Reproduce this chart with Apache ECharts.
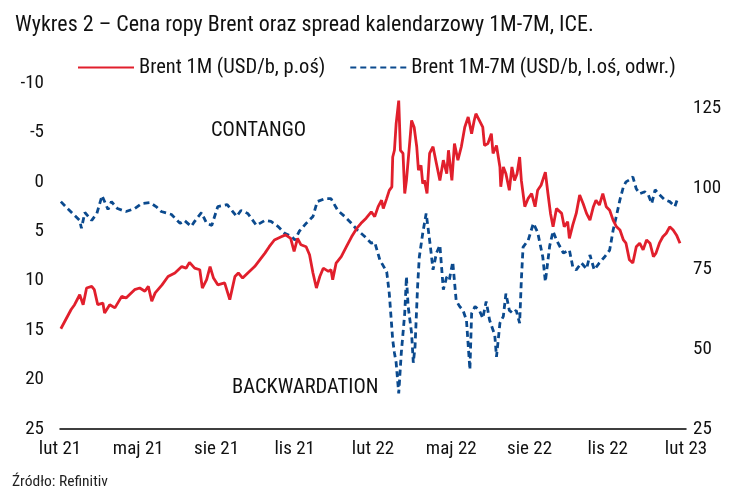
<!DOCTYPE html>
<html>
<head>
<meta charset="utf-8">
<script src="https://cdn.jsdelivr.net/npm/echarts@6/dist/echarts.min.js"></script>
<style>
html,body{margin:0;padding:0;background:#fff;}
#c{width:738px;height:498px;}
</style>
</head>
<body>
<div id="c"></div>
<script>
// ---- data ----
const tickDates = ['2021-02-01','2021-05-01','2021-08-01','2021-11-01','2022-02-01','2022-05-01','2022-08-01','2022-11-01','2023-02-01'];
const tickLabels = ['lut 21','maj 21','sie 21','lis 21','lut 22','maj 22','sie 22','lis 22','lut 23'];
const leftTicks = [-10,-5,0,5,10,15,20,25];
const rightTicks = [25,50,75,100,125];

const brentDates = ['2021-02-02','2021-02-14','2021-02-18','2021-02-24','2021-02-28','2021-03-04','2021-03-10','2021-03-13','2021-03-17','2021-03-23','2021-03-25','2021-03-31','2021-04-06','2021-04-14','2021-04-19','2021-04-29','2021-05-05','2021-05-11','2021-05-15','2021-05-19','2021-05-23','2021-05-31','2021-06-07','2021-06-15','2021-06-23','2021-06-28','2021-07-02','2021-07-08','2021-07-14','2021-07-17','2021-07-22','2021-07-26','2021-07-30','2021-08-04','2021-08-06','2021-08-12','2021-08-18','2021-08-24','2021-08-28','2021-09-02','2021-09-08','2021-09-16','2021-09-22','2021-09-28','2021-10-03','2021-10-09','2021-10-17','2021-10-22','2021-10-28','2021-11-01','2021-11-05','2021-11-09','2021-11-15','2021-11-19','2021-11-23','2021-11-27','2021-12-01','2021-12-05','2021-12-11','2021-12-14','2021-12-16','2021-12-20','2021-12-26','2022-01-01','2022-01-07','2022-01-13','2022-01-18','2022-01-24','2022-01-30','2022-02-03','2022-02-07','2022-02-11','2022-02-13','2022-02-17','2022-02-20','2022-02-23','2022-02-24','2022-02-26','2022-02-28','2022-03-03','2022-03-05','2022-03-08','2022-03-10','2022-03-12','2022-03-16','2022-03-18','2022-03-21','2022-03-24','2022-03-26','2022-03-29','2022-03-31','2022-04-02','2022-04-05','2022-04-08','2022-04-12','2022-04-16','2022-04-20','2022-04-24','2022-04-28','2022-04-30','2022-05-04','2022-05-07','2022-05-11','2022-05-15','2022-05-19','2022-05-23','2022-05-27','2022-05-30','2022-06-01','2022-06-05','2022-06-09','2022-06-11','2022-06-15','2022-06-19','2022-06-21','2022-06-25','2022-06-29','2022-06-30','2022-07-03','2022-07-06','2022-07-10','2022-07-13','2022-07-16','2022-07-19','2022-07-22','2022-07-24','2022-07-28','2022-08-01','2022-08-05','2022-08-09','2022-08-12','2022-08-16','2022-08-21','2022-08-24','2022-08-27','2022-08-30','2022-09-03','2022-09-09','2022-09-12','2022-09-16','2022-09-18','2022-09-22','2022-09-26','2022-09-30','2022-10-04','2022-10-08','2022-10-12','2022-10-16','2022-10-19','2022-10-23','2022-10-27','2022-10-31','2022-11-04','2022-11-08','2022-11-12','2022-11-16','2022-11-20','2022-11-23','2022-11-27','2022-12-01','2022-12-05','2022-12-09','2022-12-13','2022-12-17','2022-12-21','2022-12-25','2022-12-28','2023-01-01','2023-01-05','2023-01-09','2023-01-13','2023-01-17','2023-01-21','2023-01-25'];
const brentValues = [56.3,62.3,63.8,66.9,63.8,69.0,69.5,68.5,63.8,64.3,61.2,63.8,62.8,66.4,65.9,68.5,69.0,68.0,69.5,64.9,67.5,70.0,72.6,73.7,75.7,75.2,77.0,75.2,74.7,69.0,71.6,75.7,72.1,70.0,69.5,70.6,65.4,72.6,73.7,72.1,73.7,75.7,77.8,79.9,81.9,84.0,85.0,85.6,84.5,80.4,84.5,82.5,81.9,79.4,73.7,69.0,72.6,75.2,74.2,74.7,71.6,76.8,78.8,81.9,85.0,87.6,89.2,90.8,92.8,91.3,94.4,96.4,93.8,97.0,99.5,100.6,109.9,112.0,120.3,127.5,112.0,111.0,98.5,102.6,115.0,121.3,119.2,113.1,105.8,107.3,101.6,102.6,98.5,111.0,113.1,107.8,102.6,108.9,104.7,112.0,102.6,114.1,108.9,113.1,119.2,122.4,117.2,121.3,123.4,121.3,119.2,113.5,114.1,117.2,111.0,113.5,106.8,100.6,106.8,104.7,99.5,106.8,102.6,104.7,109.9,102.6,94.4,97.0,98.5,94.4,99.5,101.1,105.2,98.5,92.3,88.1,93.8,92.3,88.1,89.7,84.5,88.7,92.3,98.0,95.4,92.3,90.2,94.4,96.4,94.9,98.5,94.4,93.3,90.2,88.1,87.1,84.0,83.0,77.8,76.8,81.9,83.0,80.9,84.0,83.0,78.8,79.9,83.0,85.0,86.1,88.1,87.1,85.5,83.0];

const spreadDates = ['2021-02-02','2021-02-11','2021-02-24','2021-02-26','2021-03-02','2021-03-10','2021-03-16','2021-03-22','2021-03-29','2021-04-02','2021-04-09','2021-04-19','2021-04-29','2021-05-07','2021-05-17','2021-05-24','2021-05-30','2021-06-11','2021-06-21','2021-06-26','2021-07-04','2021-07-08','2021-07-16','2021-07-22','2021-07-28','2021-08-04','2021-08-15','2021-08-26','2021-08-31','2021-09-08','2021-09-18','2021-09-28','2021-10-05','2021-10-13','2021-10-21','2021-10-29','2021-11-02','2021-11-07','2021-11-15','2021-11-23','2021-11-28','2021-12-07','2021-12-14','2021-12-22','2021-12-30','2022-01-07','2022-01-14','2022-01-22','2022-01-30','2022-02-03','2022-02-09','2022-02-17','2022-02-20','2022-02-24','2022-02-26','2022-02-28','2022-03-03','2022-03-06','2022-03-10','2022-03-12','2022-03-14','2022-03-18','2022-03-20','2022-03-22','2022-03-25','2022-03-27','2022-03-31','2022-04-04','2022-04-06','2022-04-09','2022-04-12','2022-04-16','2022-04-20','2022-04-24','2022-04-28','2022-05-01','2022-05-05','2022-05-09','2022-05-13','2022-05-17','2022-05-21','2022-05-25','2022-05-27','2022-05-31','2022-06-05','2022-06-09','2022-06-13','2022-06-17','2022-06-23','2022-06-25','2022-06-29','2022-07-03','2022-07-06','2022-07-10','2022-07-14','2022-07-18','2022-07-22','2022-07-24','2022-07-26','2022-08-01','2022-08-07','2022-08-09','2022-08-12','2022-08-14','2022-08-18','2022-08-21','2022-08-26','2022-08-30','2022-09-03','2022-09-11','2022-09-18','2022-09-22','2022-09-26','2022-10-02','2022-10-08','2022-10-12','2022-10-17','2022-10-23','2022-10-29','2022-11-04','2022-11-08','2022-11-12','2022-11-16','2022-11-20','2022-11-23','2022-11-27','2022-12-01','2022-12-05','2022-12-09','2022-12-15','2022-12-19','2022-12-23','2022-12-27','2023-01-01','2023-01-07','2023-01-13','2023-01-19','2023-01-23'];
const spreadValues = [2.0,2.8,3.9,4.7,3.1,3.9,3.2,1.4,2.8,2.0,2.7,3.0,2.7,2.2,2.1,2.5,3.0,3.3,4.2,3.9,4.5,4.0,3.1,4.2,4.4,2.5,2.3,3.5,2.9,3.2,4.4,3.9,4.0,4.5,5.2,5.5,5.9,5.0,4.2,3.5,2.0,1.7,1.7,2.9,3.5,4.2,4.9,5.5,6.2,6.1,7.9,9.1,11.3,16.0,17.3,18.3,21.4,17.3,13.3,9.6,12.6,15.3,18.3,16.7,10.6,7.6,5.2,3.2,4.5,6.6,8.9,7.2,6.4,10.9,9.6,9.9,8.1,12.0,12.6,13.0,14.0,19.0,13.3,12.6,13.0,13.8,12.1,14.0,15.5,17.7,14.3,13.6,11.3,13.0,13.3,13.0,14.3,9.9,6.6,5.9,4.2,4.0,5.1,5.0,7.6,10.1,6.5,5.0,5.9,7.2,6.9,8.6,8.9,8.2,8.8,7.4,8.9,8.2,7.6,6.9,4.9,3.4,1.8,0.5,0.0,-0.2,-0.5,0.7,1.2,1.0,1.3,2.2,0.8,1.3,1.8,2.0,2.5,1.5];

const seriesNames = ['Brent 1M (USD/b, p.oś)', 'Brent 1M-7M (USD/b, l.oś, odwr.)'];
const titleText = 'Wykres 2 – Cena ropy Brent oraz spread kalendarzowy 1M-7M, ICE.';
const sourceText = 'Źródło: Refinitiv';

// ---- chart ----
const FONT = '"Roboto Condensed", "Liberation Sans Narrow", Roboto, sans-serif';
const chart = echarts.init(document.getElementById('c'), null, {renderer: 'canvas'});
const ts = d => +new Date(d + 'T00:00:00Z');
const toPair = (ds, vs) => ds.map((d, i) => [ts(d), vs[i]]);

chart.setOption({
  animation: false,
  backgroundColor: '#fff',
  textStyle: {fontFamily: FONT},
  title: {
    text: titleText, left: 10, top: 9,
    textStyle: {fontFamily: FONT, fontSize: 22, fontWeight: 'normal', color: '#111'}
  },
  legend: {
    left: 72, top: 52, itemWidth: 56, itemHeight: 14, itemGap: 24,
    data: seriesNames,
    itemStyle: {opacity: 0},
    textStyle: {fontFamily: FONT, fontSize: 20.5, color: '#111'}
  },
  grid: {left: 60, right: 52, top: 83, bottom: 69, containLabel: false},
  xAxis: [
    {
      type: 'value',
      min: ts(tickDates[0]), max: ts(tickDates[tickDates.length - 1]),
      axisLine: {show: true, onZero: false, lineStyle: {color: '#000', width: 1.5}},
      axisTick: {show: false}, splitLine: {show: false},
      axisLabel: {show: false}
    },
    {
      type: 'category', position: 'bottom', boundaryGap: false,
      data: tickLabels,
      axisLine: {show: false, onZero: false}, axisTick: {show: false}, splitLine: {show: false},
      axisLabel: {margin: 11, fontSize: 19, color: '#111', fontFamily: FONT, interval: 0}
    }
  ],
  yAxis: [
    {
      type: 'value', inverse: true, min: leftTicks[0], max: leftTicks[leftTicks.length - 1], interval: 5,
      position: 'left',
      axisLine: {show: false}, axisTick: {show: false}, splitLine: {show: false},
      axisLabel: {margin: 16, fontSize: 19, color: '#111', fontFamily: FONT}
    },
    {
      type: 'value', min: 25, max: 133, interval: 25,
      position: 'right',
      axisLine: {show: false}, axisTick: {show: false}, splitLine: {show: false},
      axisLabel: {
        margin: 7, fontSize: 19, color: '#111', fontFamily: FONT,
        formatter: v => rightTicks.indexOf(Math.round(v * 1000) / 1000) >= 0 ? String(v) : ''
      }
    }
  ],
  series: [
    {
      name: seriesNames[0], type: 'line', xAxisIndex: 0, yAxisIndex: 1,
      data: toPair(brentDates, brentValues),
      showSymbol: false, symbol: 'none',
      lineStyle: {color: '#e11f2c', width: 2.8},
      itemStyle: {color: '#e11f2c'}, z: 3
    },
    {
      name: seriesNames[1], type: 'line', xAxisIndex: 0, yAxisIndex: 0,
      data: toPair(spreadDates, spreadValues),
      showSymbol: false, symbol: 'none',
      lineStyle: {color: '#0b4a8e', width: 2.8, type: [6, 4]},
      itemStyle: {color: '#0b4a8e'}, z: 2
    }
  ],
  graphic: [
    {type: 'text', left: 211, top: 120, style: {text: 'CONTANGO', fontFamily: FONT, fontSize: 20.5, fill: '#111'}},
    {type: 'text', left: 232, top: 377, style: {text: 'BACKWARDATION', fontFamily: FONT, fontSize: 20.5, fill: '#111'}},
    {type: 'text', left: 12, top: 474, style: {text: sourceText, fontFamily: FONT, fontSize: 15.5, fill: '#222'}}
  ]
});
</script>
</body>
</html>
